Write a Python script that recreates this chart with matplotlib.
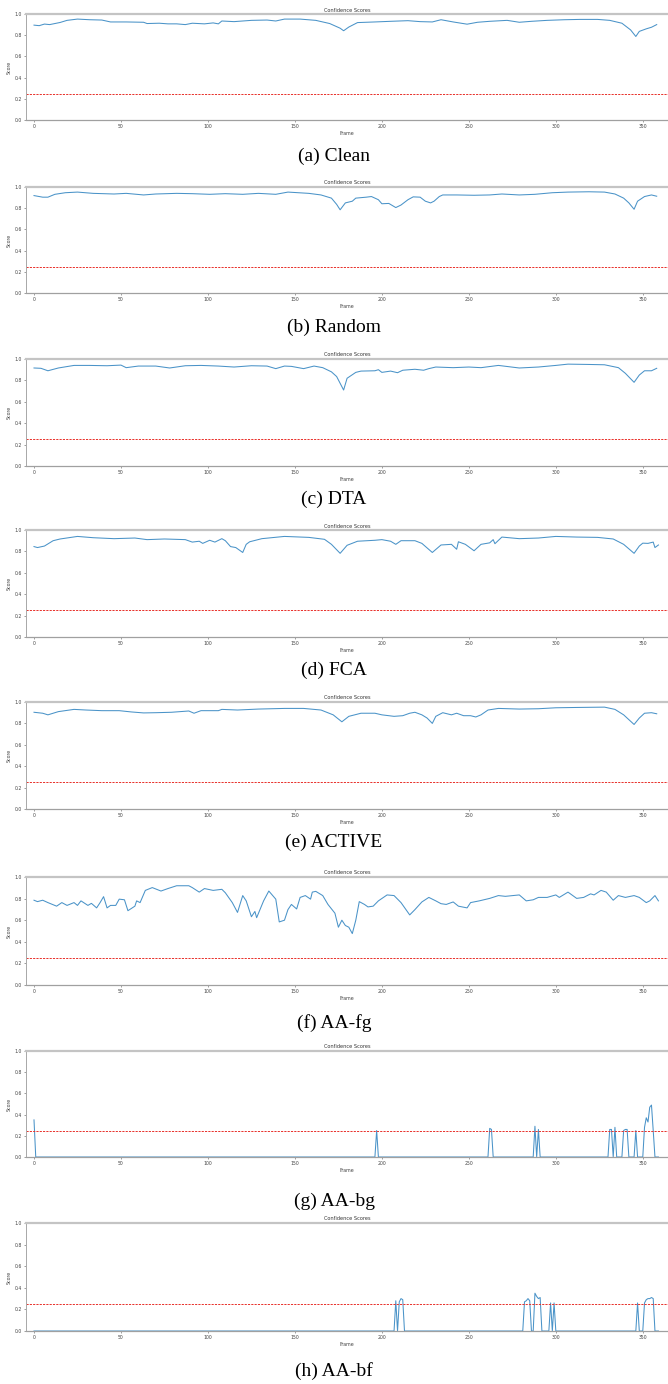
import matplotlib
matplotlib.use("Agg")
import matplotlib.pyplot as plt

# ---------------- data (frame, score) ----------------
frames_clean = [0, 3, 6, 9, 15, 19, 25, 32, 39, 44, 53, 63, 65, 72, 77, 82, 87, 91, 98, 103, 106, 108, 115,
                125, 134, 139, 144, 153, 162, 170, 176, 178, 181, 186, 196, 205, 215, 222, 229, 234, 241,
                249, 255, 262, 272, 279, 286, 295, 305, 314, 324, 331, 338, 343, 346, 348, 352, 355, 358]
score_clean = [0.895, 0.89, 0.905, 0.90, 0.92, 0.94, 0.952, 0.946, 0.943, 0.925, 0.925, 0.922, 0.91, 0.913,
               0.907, 0.907, 0.90, 0.913, 0.907, 0.916, 0.907, 0.934, 0.928, 0.94, 0.943, 0.934, 0.952, 0.952,
               0.94, 0.91, 0.866, 0.842, 0.877, 0.919, 0.925, 0.931, 0.937, 0.928, 0.925, 0.946, 0.925, 0.904,
               0.922, 0.931, 0.94, 0.922, 0.931, 0.94, 0.946, 0.949, 0.949, 0.94, 0.913, 0.85, 0.788, 0.836,
               0.86, 0.875, 0.90]

frames_random = [0, 5, 8, 12, 18, 25, 34, 46, 53, 63, 70, 82, 91, 101, 110, 120, 129, 139, 146, 158, 165,
                 171, 174, 176, 179, 183, 185, 191, 194, 198, 200, 204, 208, 211, 215, 218, 222, 225, 228, 230,
                 233, 235, 243, 253, 262, 269, 279, 288, 298, 307, 319, 328, 334, 339, 342, 345, 347, 351, 355,
                 358]
score_random = [0.919, 0.904, 0.904, 0.931, 0.946, 0.952, 0.94, 0.934, 0.94, 0.925, 0.934, 0.94, 0.937, 0.931,
                0.937, 0.931, 0.94, 0.931, 0.952, 0.94, 0.925, 0.895, 0.836, 0.785, 0.85, 0.866, 0.895, 0.904,
                0.91, 0.88, 0.842, 0.845, 0.806, 0.83, 0.88, 0.907, 0.904, 0.866, 0.85, 0.866, 0.91, 0.925,
                0.925, 0.922, 0.925, 0.934, 0.925, 0.931, 0.946, 0.952, 0.955, 0.952, 0.934, 0.895, 0.85, 0.79,
                0.866, 0.91, 0.925, 0.913]

frames_dta = [0, 4, 8, 14, 23, 32, 42, 50, 53, 60, 70, 78, 87, 96, 106, 115, 125, 134, 139, 144, 148, 155,
              161, 166, 171, 174, 178, 180, 185, 188, 196, 198, 200, 205, 209, 212, 219, 224, 227, 231, 241,
              250, 257, 267, 279, 290, 300, 307, 319, 328, 336, 340, 345, 348, 351, 355, 358]
score_dta = [0.916, 0.913, 0.89, 0.916, 0.94, 0.94, 0.937, 0.943, 0.919, 0.934, 0.934, 0.916, 0.937, 0.94,
             0.934, 0.925, 0.937, 0.934, 0.91, 0.934, 0.931, 0.91, 0.934, 0.919, 0.88, 0.836, 0.71, 0.82,
             0.875, 0.887, 0.89, 0.90, 0.875, 0.887, 0.872, 0.895, 0.904, 0.895, 0.91, 0.925, 0.919, 0.925,
             0.919, 0.94, 0.916, 0.925, 0.94, 0.952, 0.949, 0.946, 0.919, 0.866, 0.782, 0.85, 0.89, 0.89,
             0.913]

frames_fca = [0, 2, 6, 11, 15, 25, 34, 46, 58, 65, 75, 87, 91, 95, 97, 101, 104, 108, 110, 113, 116, 120,
              122, 124, 131, 144, 158, 167, 171, 176, 180, 186, 196, 200, 205, 208, 211, 219, 223, 229, 234,
              240, 243, 244, 248, 253, 257, 262, 264, 265, 269, 279, 290, 300, 312, 324, 333, 339, 345, 348,
              350, 353, 356, 357, 359]
score_fca = [0.845, 0.836, 0.85, 0.90, 0.916, 0.94, 0.928, 0.919, 0.925, 0.91, 0.916, 0.91, 0.887, 0.895,
             0.875, 0.904, 0.887, 0.919, 0.90, 0.845, 0.836, 0.79, 0.866, 0.89, 0.919, 0.94, 0.931, 0.913,
             0.866, 0.782, 0.857, 0.895, 0.904, 0.91, 0.895, 0.866, 0.90, 0.90, 0.875, 0.79, 0.86, 0.866,
             0.82, 0.89, 0.866, 0.806, 0.866, 0.88, 0.91, 0.872, 0.934, 0.919, 0.925, 0.94, 0.934, 0.931,
             0.916, 0.866, 0.782, 0.85, 0.877, 0.875, 0.887, 0.836, 0.86]

frames_active = [0, 5, 8, 14, 23, 30, 39, 49, 56, 63, 70, 79, 89, 92, 96, 106, 108, 117, 129, 144, 155, 165,
                 172, 177, 181, 188, 196, 200, 207, 212, 216, 219, 223, 226, 229, 231, 235, 240, 243, 247, 251,
                 254, 257, 261, 267, 279, 290, 300, 312, 328, 334, 339, 345, 348, 351, 355, 358]
score_active = [0.904, 0.895, 0.88, 0.91, 0.931, 0.925, 0.919, 0.919, 0.907, 0.898, 0.90, 0.904, 0.916, 0.895,
                0.919, 0.919, 0.931, 0.925, 0.934, 0.94, 0.94, 0.925, 0.88, 0.815, 0.866, 0.895, 0.895, 0.88,
                0.866, 0.872, 0.895, 0.904, 0.88, 0.85, 0.80, 0.866, 0.90, 0.88, 0.895, 0.872, 0.872, 0.86,
                0.88, 0.925, 0.94, 0.934, 0.937, 0.946, 0.949, 0.952, 0.931, 0.88, 0.79, 0.85, 0.895, 0.90,
                0.89]

frames_aafg = [0, 2, 5, 8, 13, 16, 19, 23, 25, 27, 31, 33, 36, 38, 40, 42, 44, 47, 49, 52, 54, 58, 59, 61,
               64, 68, 73, 77, 82, 89, 91, 95, 98, 103, 108, 110, 114, 117, 120, 122, 125, 127, 128, 132, 135,
               139, 141, 144, 146, 148, 151, 153, 156, 159, 160, 162, 166, 169, 173, 175, 177, 179, 181, 183,
               185, 187, 190, 192, 195, 198, 203, 207, 211, 216, 219, 223, 227, 231, 234, 237, 241, 244, 249,
               251, 256, 262, 267, 271, 279, 283, 287, 290, 295, 300, 302, 307, 312, 316, 320, 322, 326, 329,
               333, 336, 340, 345, 348, 352, 354, 357, 359]
score_aafg = [0.785, 0.772, 0.785, 0.763, 0.73, 0.763, 0.737, 0.763, 0.737, 0.779, 0.737, 0.756, 0.714, 0.763,
              0.818, 0.714, 0.737, 0.737, 0.795, 0.789, 0.688, 0.73, 0.779, 0.763, 0.876, 0.902, 0.87, 0.893,
              0.919, 0.919, 0.902, 0.86, 0.893, 0.876, 0.886, 0.854, 0.763, 0.672, 0.828, 0.779, 0.632, 0.681,
              0.623, 0.779, 0.87, 0.795, 0.584, 0.60, 0.698, 0.746, 0.704, 0.811, 0.828, 0.795, 0.86, 0.867,
              0.828, 0.746, 0.665, 0.535, 0.60, 0.551, 0.535, 0.476, 0.60, 0.772, 0.746, 0.723, 0.73, 0.779,
              0.834, 0.828, 0.763, 0.649, 0.698, 0.769, 0.811, 0.779, 0.753, 0.746, 0.769, 0.73, 0.714, 0.763,
              0.779, 0.802, 0.828, 0.821, 0.834, 0.779, 0.789, 0.811, 0.811, 0.834, 0.811, 0.86, 0.802, 0.811,
              0.844, 0.834, 0.876, 0.86, 0.785, 0.828, 0.811, 0.828, 0.811, 0.763, 0.779, 0.828, 0.779]

frames_aabg = [0, 1, 196, 197, 198, 261, 262, 263, 264, 287, 288, 289, 290, 291, 330, 331, 332, 333, 334,
               335, 338, 339, 340, 341, 342, 345, 346, 347, 350, 351, 352, 353, 354, 355, 356, 357, 359]
score_aabg = [0.35, 0.0, 0.0, 0.25, 0.0, 0.0, 0.27, 0.26, 0.0, 0.0, 0.29, 0.0, 0.26, 0.0, 0.0, 0.26, 0.26,
              0.0, 0.28, 0.0, 0.0, 0.25, 0.26, 0.26, 0.0, 0.0, 0.25, 0.0, 0.0, 0.28, 0.37, 0.33, 0.47, 0.49,
              0.25, 0.0, 0.0]

frames_aabf = [0, 207, 208, 209, 210, 211, 212, 213, 281, 282, 283, 284, 285, 286, 287, 288, 289, 290, 291,
               292, 296, 297, 298, 299, 300, 346, 347, 348, 350, 351, 352, 353, 354, 355, 356, 357, 359]
score_aabf = [0.0, 0.0, 0.28, 0.0, 0.27, 0.30, 0.29, 0.0, 0.0, 0.27, 0.28, 0.30, 0.28, 0.0, 0.0, 0.35, 0.32,
              0.30, 0.31, 0.0, 0.0, 0.26, 0.0, 0.26, 0.0, 0.0, 0.26, 0.0, 0.0, 0.26, 0.29, 0.30, 0.30, 0.31,
              0.30, 0.0, 0.0]

captions = ["(a) Clean", "(b) Random", "(c) DTA", "(d) FCA", "(e) ACTIVE", "(f) AA-fg", "(g) AA-bg",
            "(h) AA-bf"]
threshold = 0.25
x_ticks = [0, 50, 100, 150, 200, 250, 300, 350]
y_ticks = [0.0, 0.2, 0.4, 0.6, 0.8, 1.0]

series = [(frames_clean, score_clean), (frames_random, score_random), (frames_dta, score_dta),
          (frames_fca, score_fca), (frames_active, score_active), (frames_aafg, score_aafg),
          (frames_aabg, score_aabg), (frames_aabf, score_aabf)]

# ---------------- layout (pixel positions) ----------------
W, H = 668, 1384
tops = [14, 187, 359, 530, 702, 877, 1051, 1223]
bottoms = [120, 293, 466, 637, 809, 985, 1157, 1331]
cap_y = [156, 327, 499, 670, 842, 1023, 1201, 1371]
left_px, right_px = 26, 668

fig = plt.figure(figsize=(W / 100, H / 100), dpi=100)
fig.patch.set_facecolor("white")

for i, ((fx, fy), cap) in enumerate(zip(series, captions)):
    t, b = tops[i], bottoms[i]
    ax = fig.add_axes([left_px / W, 1 - b / H, (right_px - left_px) / W, (b - t) / H])
    ax.plot(fx, fy, color="#4a93c8", lw=0.75)
    ax.axhline(threshold, color="#e8302a", lw=0.7, linestyle=(0, (2.2, 1.2)))
    ax.set_xlim(-4.6, 364.5)
    ax.set_ylim(0, 1.0)
    ax.set_xticks(x_ticks)
    ax.set_yticks(y_ticks)
    ax.set_xticklabels([str(v) for v in x_ticks])
    ax.set_yticklabels([f"{v:.1f}" for v in y_ticks])
    ax.tick_params(labelsize=3.3, length=1.5, width=0.4, pad=1.2, colors="#555555", labelcolor="#444444")
    ax.set_title("Confidence Scores", fontsize=3.6, pad=1.8, color="#333333")
    ax.set_xlabel("Frame", fontsize=3.4, labelpad=1.5, color="#444444")
    ax.set_ylabel("Score", fontsize=3.4, labelpad=2, color="#444444")
    ax.spines["right"].set_visible(False)
    ax.spines["top"].set_color("#c4c4c4")
    ax.spines["top"].set_linewidth(1.6)
    ax.spines["left"].set_color("#a8a8a8")
    ax.spines["left"].set_linewidth(0.7)
    ax.spines["bottom"].set_color("#a0a0a0")
    ax.spines["bottom"].set_linewidth(0.9)
    fig.text(0.5, 1 - cap_y[i] / H, cap, ha="center", va="center", fontsize=14,
             family=["Liberation Serif", "DejaVu Serif"], color="black")

fig.savefig("out.png", dpi=100, facecolor="white")
